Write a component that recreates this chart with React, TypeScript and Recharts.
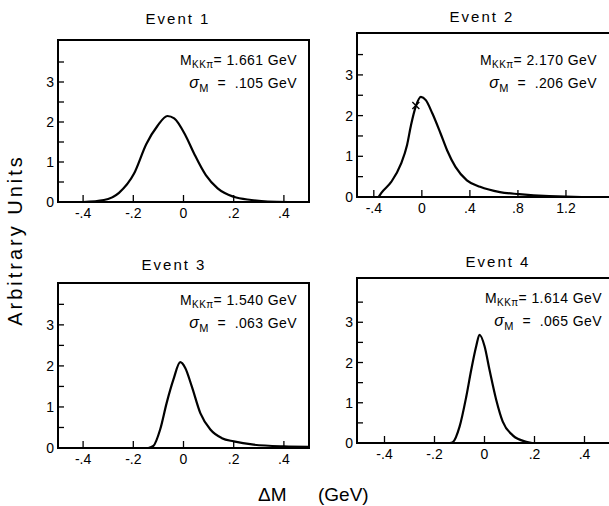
import React from 'react';
import { ComposedChart, Line, Scatter, XAxis, YAxis, ReferenceArea } from 'recharts';

const FONT = '"Liberation Sans", Arial, Helvetica, sans-serif';

// fitted curves (dM in GeV, arbitrary units)
const ev1X = [-0.4, -0.317, -0.257, -0.197, -0.148, -0.104, -0.064, -0.037, 0.009, 0.043, 0.089, 0.136, 0.2, 0.27, 0.336, 0.42];
const ev1Y = [0, 0.05, 0.23, 0.71, 1.45, 1.9, 2.15, 2.09, 1.65, 1.2, 0.67, 0.34, 0.13, 0.05, 0.01, 0];

const ev2X = [-0.36, -0.337, -0.255, -0.173, -0.123, -0.09, -0.049, -0.008, 0.033, 0.088, 0.156, 0.21, 0.28, 0.375, 0.485, 0.65, 0.81, 1.06, 1.33, 1.55];
const ev2Y = [0, 0.1, 0.37, 0.82, 1.28, 1.77, 2.24, 2.46, 2.38, 2.05, 1.56, 1.15, 0.74, 0.41, 0.25, 0.12, 0.07, 0.02, 0, 0];
const ev2MarkX = [-0.05];
const ev2MarkY = [2.25];

const ev3X = [-0.14, -0.12, -0.093, -0.067, -0.04, -0.013, 0.007, 0.033, 0.067, 0.107, 0.153, 0.2, 0.28, 0.4, 0.5];
const ev3Y = [0, 0.05, 0.45, 1.1, 1.67, 2.09, 1.95, 1.5, 0.85, 0.45, 0.24, 0.16, 0.08, 0.04, 0.03];

const ev4X = [-0.14, -0.127, -0.1, -0.073, -0.053, -0.033, -0.02, 0, 0.02, 0.047, 0.073, 0.113, 0.167, 0.19];
const ev4Y = [0, 0.02, 0.4, 1.15, 1.82, 2.41, 2.69, 2.41, 1.82, 1.07, 0.53, 0.19, 0.03, 0];

const titles = ['Event 1', 'Event 2', 'Event 3', 'Event 4'];
const masses = ['1.661', '2.170', '1.540', '1.614'];
const sigmas = ['.105', '.206', '.063', '.065'];

const yTicks = [0, 0.5, 1, 1.5, 2, 2.5, 3, 3.5];
const xTicksNarrow = [-0.4, -0.2, 0, 0.2, 0.4];
const xTicksWide = [-0.4, 0, 0.4, 0.8, 1.2];

const YW = 30;
const XH = 26;

const fmtX = (v: number) => {
  if (Math.abs(v) < 1e-9) return '0';
  return v.toFixed(1).replace(/^(-?)0\./, '$1.');
};

const YTick = (props: any) => {
  const { x, y, payload } = props;
  const v = payload.value;
  const major = Math.abs(v - Math.round(v)) < 1e-9;
  return (
    <g>
      {v > 0 && <line x1={x} y1={y} x2={x + 6} y2={y} stroke="#000" strokeWidth={1.3} />}
      {major && (
        <text x={x - 4} y={y} dy={5} textAnchor="end" fontSize={14} fontFamily={FONT} fill="#000">
          {v}
        </text>
      )}
    </g>
  );
};

const XTick = (props: any) => {
  const { x, y, payload } = props;
  return (
    <g>
      <line x1={x} y1={y} x2={x} y2={y - 7} stroke="#000" strokeWidth={1.3} />
      <text x={x} y={y + 16} textAnchor="middle" fontSize={14} fontFamily={FONT} fill="#000">
        {fmtX(payload.value)}
      </text>
    </g>
  );
};

const XMark = (props: any) => {
  const { cx, cy } = props;
  const s = 3.5;
  return (
    <g stroke="#000" strokeWidth={1.3}>
      <line x1={cx - s} y1={cy - s} x2={cx + s} y2={cy + s} />
      <line x1={cx - s} y1={cy + s} x2={cx + s} y2={cy - s} />
    </g>
  );
};

interface PanelProps {
  xs: number[];
  ys: number[];
  left: number;
  top: number;
  w: number;
  h: number;
  xDomain: [number, number];
  yMax: number;
  xTicks: number[];
  markX?: number[];
  markY?: number[];
}

function Panel({ xs, ys, left, top, w, h, xDomain, yMax, xTicks, markX, markY }: PanelProps) {
  const data = xs.map((x, i) => ({ x, y: ys[i] }));
  const marks = markX ? markX.map((x, i) => ({ x, y: markY![i] })) : null;
  return (
    <div style={{ position: 'absolute', left: left - YW, top: top - 2 }}>
      <ComposedChart
        width={YW + w + 4}
        height={h + XH + 2}
        data={data}
        margin={{ top: 2, right: 4, bottom: 0, left: 0 }}
      >
        <XAxis
          dataKey="x"
          type="number"
          domain={xDomain}
          allowDataOverflow
          ticks={xTicks}
          tick={<XTick />}
          tickSize={0}
          tickMargin={0}
          axisLine={false}
          tickLine={false}
          height={XH}
          interval={0}
        />
        <YAxis
          type="number"
          domain={[0, yMax]}
          allowDataOverflow
          ticks={yTicks}
          tick={<YTick />}
          tickSize={0}
          tickMargin={0}
          axisLine={false}
          tickLine={false}
          width={YW}
          interval={0}
        />
        <ReferenceArea
          x1={xDomain[0]}
          x2={xDomain[1]}
          y1={0}
          y2={yMax}
          fill="none"
          stroke="#000"
          strokeWidth={2}
          fillOpacity={0}
        />
        <Line
          type="monotone"
          dataKey="y"
          stroke="#000"
          strokeWidth={2.2}
          dot={false}
          isAnimationActive={false}
        />
        {marks && <Scatter data={marks} dataKey="y" shape={<XMark />} isAnimationActive={false} />}
      </ComposedChart>
    </div>
  );
}

const annotStyle: React.CSSProperties = {
  position: 'absolute',
  fontSize: 14,
  lineHeight: '15px',
  letterSpacing: 0.4,
  whiteSpace: 'nowrap',
  color: '#000',
};

const Annot = ({ right, top, i }: { right: number; top: number; i: number }) => (
  <>
    <div style={{ ...annotStyle, right, top }}>
      M<span style={{ fontSize: 10, position: 'relative', top: 3 }}>KKπ</span>= {masses[i]} GeV
    </div>
    <div style={{ ...annotStyle, right, top: top + 22 }}>
      <span style={{ fontStyle: 'italic', fontSize: 16 }}>σ</span>
      <span style={{ fontSize: 11, position: 'relative', top: 4 }}>M</span>
      {'\u00a0\u00a0=\u00a0\u00a0'}
      {sigmas[i]} GeV
    </div>
  </>
);

const Title = ({ cx, top, i }: { cx: number; top: number; i: number }) => (
  <div
    style={{
      position: 'absolute',
      left: cx,
      top,
      transform: 'translateX(-50%)',
      fontSize: 15,
      letterSpacing: 2,
      lineHeight: '16px',
      whiteSpace: 'nowrap',
    }}
  >
    {titles[i]}
  </div>
);

export default function App() {
  return (
    <div
      style={{
        position: 'fixed',
        left: 0,
        top: 0,
        width: 609,
        height: 506,
        overflow: 'hidden',
        background: '#fff',
        fontFamily: FONT,
        color: '#000',
      }}
    >
      <Panel xs={ev1X} ys={ev1Y} left={58} top={40} w={251} h={162} xDomain={[-0.5, 0.5]} yMax={4.05} xTicks={xTicksNarrow} />
      <Panel
        xs={ev2X}
        ys={ev2Y}
        left={357}
        top={33}
        w={257}
        h={164}
        xDomain={[-0.54, 1.6]}
        yMax={4.03}
        xTicks={xTicksWide}
        markX={ev2MarkX}
        markY={ev2MarkY}
      />
      <Panel xs={ev3X} ys={ev3Y} left={58} top={283} w={251} h={165} xDomain={[-0.5, 0.5]} yMax={4.02} xTicks={xTicksNarrow} />
      <Panel xs={ev4X} ys={ev4Y} left={357} top={278} w={255} h={165} xDomain={[-0.51, 0.51]} yMax={4.1} xTicks={xTicksNarrow} />

      <Title cx={178} top={11} i={0} />
      <Title cx={482} top={9} i={1} />
      <Title cx={174} top={257} i={2} />
      <Title cx={498} top={254} i={3} />

      <Annot right={312} top={53} i={0} />
      <Annot right={12} top={53} i={1} />
      <Annot right={312} top={293} i={2} />
      <Annot right={7} top={291} i={3} />

      <div
        style={{
          position: 'absolute',
          left: 15,
          top: 240,
          transform: 'translate(-50%, -50%) rotate(-90deg)',
          fontSize: 20,
          letterSpacing: 3,
          whiteSpace: 'nowrap',
        }}
      >
        Arbitrary Units
      </div>
      <div style={{ position: 'absolute', left: 258, top: 484, fontSize: 19, whiteSpace: 'nowrap' }}>ΔM</div>
      <div style={{ position: 'absolute', left: 318, top: 484, fontSize: 19, whiteSpace: 'nowrap' }}>(GeV)</div>
    </div>
  );
}
